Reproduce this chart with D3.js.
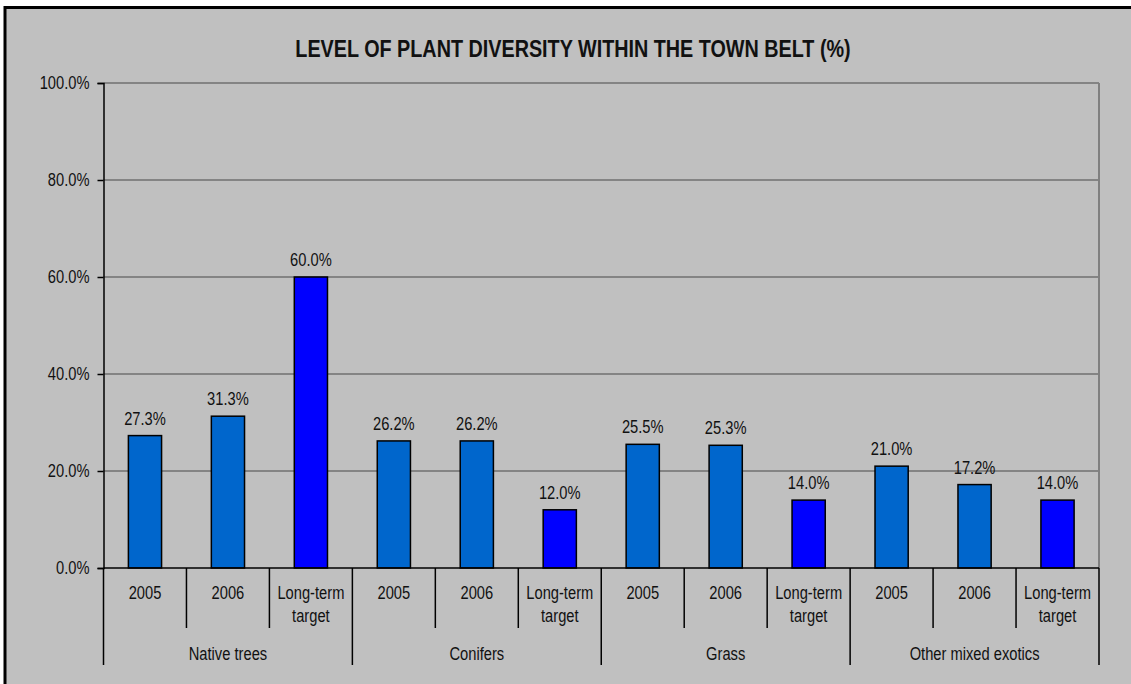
<!DOCTYPE html>
<html>
<head>
<meta charset="utf-8">
<script src="https://cdn.jsdelivr.net/npm/d3@7"></script>
<style>
  html, body { margin: 0; padding: 0; background: #fff; }
  svg { display: block; }
  text { font-family: "Liberation Sans Narrow", "Arial Narrow", "Liberation Sans", Arial, sans-serif; fill: #111; }
</style>
</head>
<body>
<svg id="chart" width="1131" height="684"></svg>
<script>
// chart data
const groups = ["Native trees", "Conifers", "Grass", "Other mixed exotics"];
const periods = ["2005", "2006", "Long-term target"];
const values = [
  [27.3, 31.3, 60.0],
  [26.2, 26.2, 12.0],
  [25.5, 25.3, 14.0],
  [21.0, 17.2, 14.0]
];
const yTicks = [0, 20, 40, 60, 80, 100];

const W = 1131, H = 684;
const plot = { left: 103.5, right: 1099, top: 83, bottom: 568 };
const NARROW = 0.84; // no narrow font installed, squeeze text horizontally

const svg = d3.select("#chart");

// squeezed text at (x, y)
function label(parent, x0, y0, str, size, opts = {}) {
  const g = parent.append("g").attr("transform", `translate(${x0},${y0}) scale(${opts.sx || NARROW},1)`);
  return g.append("text")
    .attr("text-anchor", opts.anchor || "middle")
    .attr("font-size", size)
    .attr("font-weight", opts.weight || "normal")
    .text(str);
}

// background + frame (right/bottom edges fall outside the picture)
svg.append("rect").attr("width", W).attr("height", H).attr("fill", "#fff");
svg.append("rect")
  .attr("x", 5).attr("y", 7.5).attr("width", W + 10).attr("height", H + 10)
  .attr("fill", "#c0c0c0").attr("stroke", "#000").attr("stroke-width", 3);

const rows = [];
groups.forEach((g, gi) => periods.forEach((p, pi) => {
  rows.push({ key: g + "|" + p, group: g, period: p, value: values[gi][pi], target: pi === 2 });
}));

const x = d3.scaleBand()
  .domain(rows.map(d => d.key))
  .range([plot.left, plot.right])
  .paddingInner(0).paddingOuter(0);

const y = d3.scaleLinear().domain([0, 100]).range([plot.bottom, plot.top]);

// gridlines
svg.append("g")
  .selectAll("line")
  .data(yTicks.filter(t => t > 0))
  .join("line")
  .attr("x1", plot.left).attr("x2", plot.right)
  .attr("y1", d => y(d)).attr("y2", d => y(d))
  .attr("stroke", "#707070").attr("stroke-width", 1.5);

// right plot edge
svg.append("line")
  .attr("x1", plot.right).attr("x2", plot.right)
  .attr("y1", plot.top).attr("y2", plot.bottom)
  .attr("stroke", "#808080").attr("stroke-width", 2);

// y axis
const yAxis = svg.append("g")
  .attr("transform", `translate(${plot.left},0)`)
  .call(d3.axisLeft(y).tickValues(yTicks).tickSize(6).tickPadding(8)
    .tickFormat(d => d.toFixed(1) + "%"));
yAxis.select(".domain").attr("stroke", "#000").attr("stroke-width", 1.5);
yAxis.selectAll(".tick line").attr("stroke", "#000").attr("stroke-width", 1.5);
yAxis.selectAll(".tick text")
  .attr("font-size", 17.5).attr("fill", "#111")
  .attr("x", -14 / NARROW)
  .attr("transform", `scale(${NARROW},1)`)
  .style("font-family", "'Liberation Sans Narrow', 'Arial Narrow', 'Liberation Sans', Arial, sans-serif");

// bars
const bw = x.bandwidth() * 0.4;
svg.append("g")
  .selectAll("rect")
  .data(rows)
  .join("rect")
  .attr("x", d => x(d.key) + (x.bandwidth() - bw) / 2)
  .attr("y", d => y(d.value))
  .attr("width", bw)
  .attr("height", d => y(0) - y(d.value))
  .attr("fill", d => d.target ? "#0000ff" : "#0066cc")
  .attr("stroke", "#000").attr("stroke-width", 1.5);

// value labels
const valueG = svg.append("g");
rows.forEach(d => {
  label(valueG, x(d.key) + x.bandwidth() / 2, y(d.value) - 11, d.value.toFixed(1) + "%", 17.5);
});

// x axis baseline
svg.append("line")
  .attr("x1", plot.left).attr("x2", plot.right)
  .attr("y1", plot.bottom).attr("y2", plot.bottom)
  .attr("stroke", "#000").attr("stroke-width", 1.5);

// category separators
const sep = svg.append("g").attr("stroke", "#000").attr("stroke-width", 1.5);
rows.forEach((d, i) => {
  const edge = x(d.key);
  const isGroupEdge = i % periods.length === 0;
  sep.append("line")
    .attr("x1", edge).attr("x2", edge)
    .attr("y1", plot.bottom).attr("y2", isGroupEdge ? 665 : 628);
});
sep.append("line")
  .attr("x1", plot.right).attr("x2", plot.right)
  .attr("y1", plot.bottom).attr("y2", 665);

// category labels
const catG = svg.append("g");
rows.forEach(d => {
  const cx = x(d.key) + x.bandwidth() / 2;
  if (d.target) {
    label(catG, cx, 599, "Long-term", 17.5);
    label(catG, cx, 622, "target", 17.5);
  } else {
    label(catG, cx, 599, d.period, 17.5);
  }
});

// group labels
const groupG = svg.append("g");
groups.forEach(g => {
  const first = x(g + "|" + periods[0]);
  const last = x(g + "|" + periods[periods.length - 1]) + x.bandwidth();
  label(groupG, (first + last) / 2, 660, g, 17.5);
});

// title
label(svg, 573, 57, "LEVEL OF PLANT DIVERSITY WITHIN THE TOWN BELT (%)", 23, { weight: "bold", sx: 0.86 });
</script>
</body>
</html>
